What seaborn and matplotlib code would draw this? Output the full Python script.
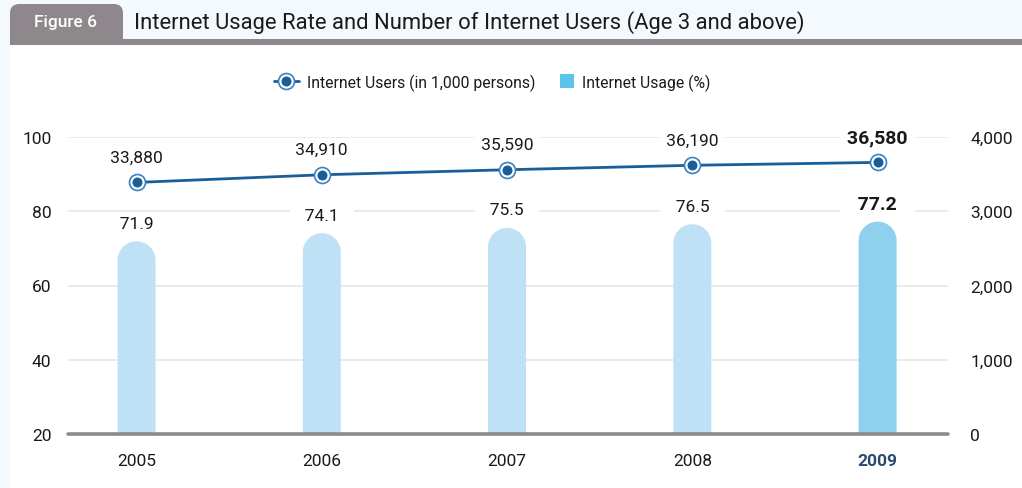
import numpy as np
import pandas as pd
import matplotlib
matplotlib.use("Agg")
import matplotlib.pyplot as plt
import seaborn as sns
from matplotlib.patches import FancyBboxPatch, Rectangle, Patch, Polygon
from matplotlib.lines import Line2D
from matplotlib.legend_handler import HandlerTuple, HandlerPatch
from matplotlib.ticker import FuncFormatter, FixedLocator

# Data
years = ["2005", "2006", "2007", "2008", "2009"]
usage_pct = [71.9, 74.1, 75.5, 76.5, 77.2]
users_thousand = [33880, 34910, 35590, 36190, 36580]
left_ticks = [20, 40, 60, 80, 100]
right_tick_labels = ["0", "1,000", "2,000", "3,000", "4,000"]

title = "Internet Usage Rate and Number of Internet Users (Age 3 and above)"
fig_tag = "Figure 6"
legend_line = "Internet Users (in 1,000 persons)"
legend_bar = "Internet Usage (%)"

# Colours
BAR = "#bfe1f5"
BAR_HI = "#8fd0ee"
BAR_LEG = "#5cc3eb"
LINE = "#1a5e98"
RING = "#3a82c2"
GRID = "#e6e6e6"
BASE = "#8b8b8b"
HEADER_BG = "#f3f9fd"
TAB = "#8e878c"
TEXT = "#1a1a1a"
YEAR_HI = "#2b4a70"

sns.set_theme(style="white")
plt.rcParams["font.family"] = ["Roboto", "DejaVu Sans"]

W, H = 1022, 489
fig = plt.figure(figsize=(W / 100, H / 100), dpi=100)
fig.patch.set_facecolor("white")

def fx(px):
    return px / W

def fy(py):
    return 1 - py / H

# Header band, tab and rule
fig.patches.append(Rectangle((0, fy(42)), 1, 42 / H, transform=fig.transFigure,
                             facecolor=HEADER_BG, edgecolor="none", zorder=0))
fig.patches.append(Rectangle((0, 0), fx(10), fy(42), transform=fig.transFigure,
                             facecolor=HEADER_BG, edgecolor="none", zorder=0))
fig.patches.append(FancyBboxPatch((fx(10), fy(30)), fx(113), 25 / H,
                                  boxstyle="round,pad=0,rounding_size=0.009",
                                  mutation_aspect=W / H,
                                  transform=fig.transFigure,
                                  facecolor=TAB, edgecolor="none", zorder=1))
fig.patches.append(Rectangle((fx(10), fy(46)), fx(113), 30 / H, transform=fig.transFigure,
                             facecolor=TAB, edgecolor="none", zorder=1))
fig.patches.append(Rectangle((fx(10), fy(46)), 1, 6 / H, transform=fig.transFigure,
                             facecolor=TAB, edgecolor="none", zorder=1))
fig.text(fx(66), fy(23), fig_tag, color="white", fontsize=12.5, fontweight="medium",
         ha="center", va="center")
fig.text(fx(134), fy(23), title, color=TEXT, fontsize=15.8, ha="left", va="center")

# Axes
ax = fig.add_axes([fx(68), fy(435), fx(948) - fx(68), (435 - 138) / H])
ax.set_facecolor("none")

df = pd.DataFrame({"year": years, "usage": usage_pct})
palette = {y: (BAR_HI if i == len(years) - 1 else BAR) for i, y in enumerate(years)}
sns.barplot(data=df, x="year", y="usage", hue="year", palette=palette,
            width=0.205, legend=False, ax=ax, saturation=1, zorder=2)

ax.set_xlim(-0.37, len(years) - 1 + 0.38)
ax.set_ylim(20, 100)
ax.yaxis.set_major_locator(FixedLocator(left_ticks))
ax.set_xlabel("")
ax.set_ylabel("")
for y in left_ticks[1:]:
    ax.axhline(y, color=GRID, lw=1.2, zorder=0)
ax.axhline(20, color=BASE, lw=2.6, zorder=3, clip_on=False)
for s in ax.spines.values():
    s.set_visible(False)
ax.tick_params(axis="both", length=0, labelsize=12.5, colors=TEXT)
ax.tick_params(axis="y", pad=12)
ax.tick_params(axis="x", pad=14)
for i, lab in enumerate(ax.get_xticklabels()):
    if i == len(years) - 1:
        lab.set_fontweight("bold")
        lab.set_color(YEAR_HI)

# Give each bar a semicircular top (same overall height as the bar)
fig.canvas.draw()
px_x = ax.transData.transform((1, 0))[0] - ax.transData.transform((0, 0))[0]
px_y = ax.transData.transform((0, 1))[1] - ax.transData.transform((0, 0))[1]
bars = list(ax.patches)
theta = np.linspace(np.pi, 0, 60)
for rect in bars:
    x0, y0 = rect.get_x(), rect.get_y()
    w, h = rect.get_width(), rect.get_height()
    rx = w / 2
    ry = rx * px_x / px_y
    cx, cy = x0 + rx, y0 + h - ry
    cap = np.column_stack([cx + rx * np.cos(theta), cy + ry * np.sin(theta)])
    verts = np.vstack([[x0, y0], [x0, cy], cap, [x0 + w, cy], [x0 + w, y0]])
    rect.set_visible(False)
    ax.add_patch(Polygon(verts, closed=True, facecolor=rect.get_facecolor(),
                         edgecolor="none", zorder=2))

# Bar value labels
for i, v in enumerate(usage_pct):
    last = i == len(years) - 1
    ax.annotate(f"   {v:.1f}   ", (i, v), xytext=(0, 13), textcoords="offset points",
                ha="center", va="center", fontsize=14 if last else 12.5,
                fontweight="bold" if last else "normal", color=TEXT, zorder=4,
                bbox=dict(boxstyle="square,pad=0.15", fc="white", ec="none"))

# Users line on the secondary axis
ax2 = ax.twinx()
ax2.set_ylim(0, 40000)
ax2.yaxis.set_major_locator(FixedLocator([0, 10000, 20000, 30000, 40000]))
ax2.yaxis.set_major_formatter(FuncFormatter(lambda v, p: right_tick_labels[int(round(v / 10000))]))
for s in ax2.spines.values():
    s.set_visible(False)
ax2.tick_params(axis="y", length=0, labelsize=12.5, colors=TEXT, pad=16)
ax2.grid(False)

xpos = np.arange(len(years))
ldf = pd.DataFrame({"x": xpos, "users": users_thousand})
sns.lineplot(data=ldf, x="x", y="users", color=LINE, lw=2, ax=ax2, zorder=3)
ax2.plot(xpos, users_thousand, ls="none", marker="o", ms=11.5, mfc="white",
         mec=RING, mew=1.2, zorder=4)
ax2.plot(xpos, users_thousand, ls="none", marker="o", ms=7.2, mfc=LINE,
         mec=LINE, mew=0, zorder=5)
ax2.set_xlabel("")
ax2.set_ylabel("")
for i, v in enumerate(users_thousand):
    last = i == len(years) - 1
    ax2.annotate(f" {v:,} ", (i, v), xytext=(0, 18), textcoords="offset points",
                 ha="center", va="center", fontsize=14 if last else 12.5,
                 fontweight="bold" if last else "normal", color=TEXT, zorder=6,
                 bbox=dict(boxstyle="square,pad=0.1", fc="white", ec="none"))

# Legend
def square_patch(legend, orig_handle, xdescent, ydescent, width, height, fontsize):
    side = height * 1.25
    return Rectangle((width - side - xdescent, (height - side) / 2 - ydescent), side, side)

h_line = (Line2D([], [], color=LINE, lw=2, marker="o", ms=11.5, mfc="white", mec=RING, mew=1.2),
          Line2D([], [], ls="none", marker="o", ms=7.2, mfc=LINE, mec=LINE, mew=0))
h_bar = Patch(facecolor=BAR_LEG, edgecolor="none")
fig.legend([h_line, h_bar], [legend_line, legend_bar],
           handler_map={tuple: HandlerTuple(ndivide=1),
                        Patch: HandlerPatch(patch_func=square_patch)},
           loc="center", bbox_to_anchor=(fx(492), fy(83)), ncol=2, frameon=False,
           fontsize=11.3, handlelength=1.6, handletextpad=0.5, columnspacing=0.9,
           labelcolor=TEXT)

fig.savefig("out.png", dpi=100, facecolor=fig.get_facecolor())
